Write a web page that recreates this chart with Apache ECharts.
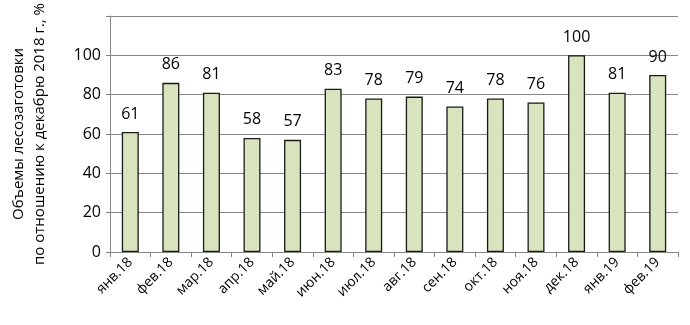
<!DOCTYPE html>
<html><head><meta charset="utf-8">
<script src="https://cdn.jsdelivr.net/npm/echarts@6/dist/echarts.min.js"></script>
<style>html,body{margin:0;padding:0;background:#fff}#c{width:690px;height:325px}</style>
</head><body><div id="c"></div>
<script>
const categories = ['янв.18','фев.18','мар.18','апр.18','май.18','июн.18','июл.18','авг.18','сен.18','окт.18','ноя.18','дек.18','янв.19','фев.19'];
const values = [61,86,81,58,57,83,78,79,74,78,76,100,81,90];
const yTicks = [0,20,40,60,80,100];
const yName = 'Объемы лесозаготовки\nпо отношению к декабрю 2018 г., %';
const font = "'Open Sans', 'Liberation Sans', sans-serif";
const chart = echarts.init(document.getElementById('c'));
chart.setOption({
  animation:false,
  grid:{left:108,right:12,top:15,bottom:73},
  xAxis:{type:'category',data:categories,
    axisLine:{lineStyle:{color:'#868686',width:1}},
    axisTick:{show:true,interval:0,length:5,lineStyle:{color:'#868686'}},
    axisLabel:{interval:0,rotate:45,color:'#000',fontSize:14,fontFamily:font,margin:8}},
  yAxis:{type:'value',min:0,max:120,interval:20,
    name:yName,nameLocation:'middle',nameGap:60,nameRotate:90,
    nameTextStyle:{color:'#000',fontSize:15,fontFamily:font,lineHeight:21},
    axisLine:{show:true,lineStyle:{color:'#868686'}},
    axisTick:{show:true,length:4,lineStyle:{color:'#868686'}},
    splitLine:{lineStyle:{color:'#868686',width:1}},
    axisLabel:{color:'#000',fontSize:16,fontFamily:font,margin:9,
      formatter:v=>yTicks.includes(v)?String(v):''}},
  series:[{type:'bar',data:values,barWidth:17,
    itemStyle:{color:'#d7e4bd',borderColor:'#1a1a1a',borderWidth:1.3},
    label:{show:true,position:'top',distance:10,color:'#000',fontSize:16,fontFamily:font}}]
});
</script></body></html>
